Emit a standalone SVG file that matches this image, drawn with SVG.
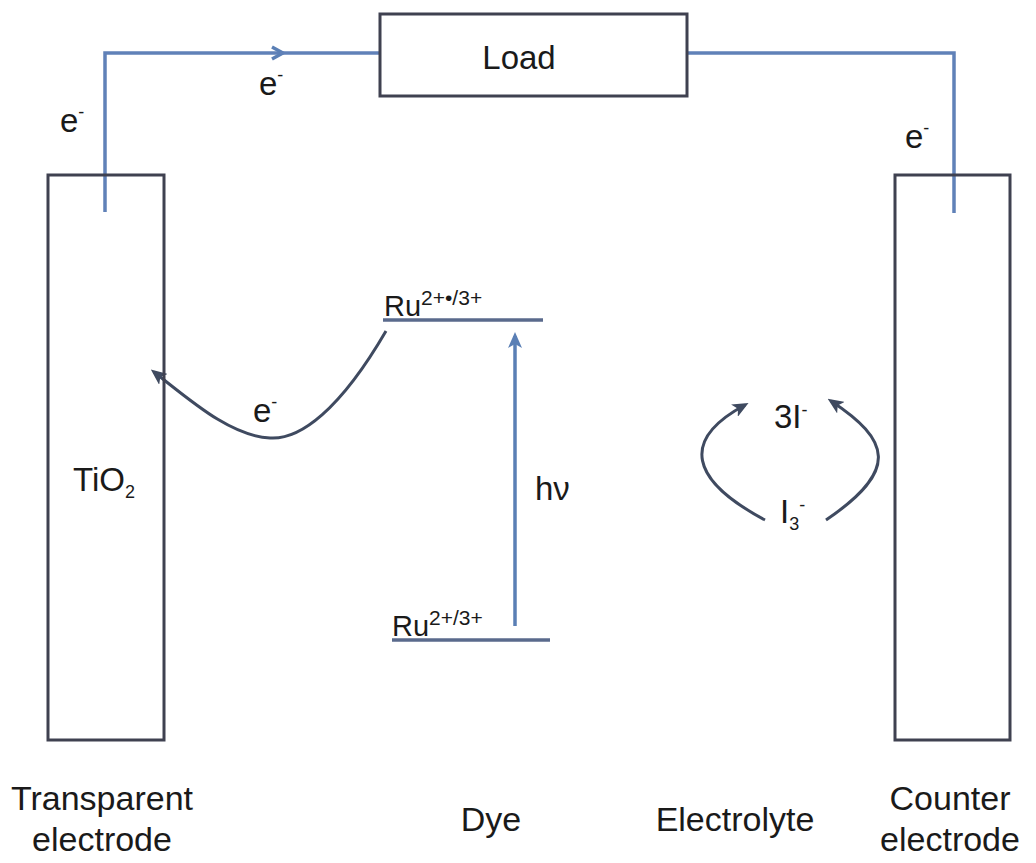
<svg xmlns="http://www.w3.org/2000/svg" width="1036" height="863" viewBox="0 0 1036 863">
<defs>
<style>
.box{fill:none;stroke:#3f4150;stroke-width:3}
.wire{fill:none;stroke:#6081b8;stroke-width:3.5}
.arr{fill:none;stroke:#3f4a60;stroke-width:3}
.lvl{fill:none;stroke:#5a6a8c;stroke-width:3.5}
text{font-family:"Liberation Sans",Arial,sans-serif;font-size:33px;fill:#1a1a1a}
.sup{font-size:18px}
.ru{font-size:29px}
.rusup{font-size:21px}
.cap{font-size:34px}
</style>
<marker id="open" markerWidth="16" markerHeight="16" refX="12" refY="8" orient="auto" markerUnits="userSpaceOnUse">
<path d="M2,2 L13,8 L2,14" fill="none" stroke="#5a7fb5" stroke-width="3.5"/>
</marker>
<marker id="head" markerWidth="16" markerHeight="14" refX="12" refY="7" orient="auto" markerUnits="userSpaceOnUse">
<path d="M0,0 L16,7 L0,14 L4,7 Z" fill="#3f4a60"/>
</marker>
<marker id="headb" markerWidth="16" markerHeight="14" refX="12" refY="7" orient="auto" markerUnits="userSpaceOnUse">
<path d="M0,0 L16,7 L0,14 L4,7 Z" fill="#5a7fb5"/>
</marker>
</defs>
<rect width="1036" height="863" fill="#ffffff"/>

<g id="connectors">
<path class="wire" d="M105,212 V53 H282" marker-end="url(#open)"/>
<path class="wire" d="M280,53 H380"/>
<path class="wire" d="M687,53 H954 V213"/>
<path class="arr" d="M386,331 C340,410 300,440 270,438 C230,436 190,400 154,372" marker-end="url(#head)"/>
<line x1="515" y1="626" x2="515" y2="336" stroke="#5a7fb5" stroke-width="3.5" marker-end="url(#headb)"/>
<path class="arr" d="M765,520 C690,480 680,440 745,405" marker-end="url(#head)"/>
<path class="arr" d="M826,520 C900,470 890,440 831,401" marker-end="url(#head)"/>
</g>

<g id="load">
<rect class="box" x="380" y="14" width="307" height="82"/>
<text x="519" y="69" text-anchor="middle" font-size="32">Load</text>
</g>

<g id="transparent-electrode">
<rect class="box" x="48" y="175" width="116" height="565"/>
<text x="73" y="491">TiO<tspan class="sup" dy="7">2</tspan></text>
</g>

<g id="counter-electrode">
<rect class="box" x="895" y="175" width="115" height="565"/>
</g>

<g id="dye-levels">
<line class="lvl" x1="383" y1="320" x2="543" y2="320"/>
<text class="ru" x="384" y="316">Ru<tspan class="rusup" dy="-11">2+•/3+</tspan></text>
<line class="lvl" x1="392" y1="640" x2="550" y2="640"/>
<text class="ru" x="392" y="636">Ru<tspan class="rusup" dy="-11">2+/3+</tspan></text>
<text x="535" y="500">hν</text>
</g>

<g id="electrolyte">
<text x="774" y="428" font-size="28">3I<tspan class="sup" dy="-12">-</tspan></text>
<text x="780" y="523" font-size="28">I<tspan class="sup" dy="7">3</tspan><tspan class="sup" dy="-19">-</tspan></text>
</g>

<g id="electron-labels">
<text x="60" y="132">e<tspan class="sup" dy="-14">-</tspan></text>
<text x="259" y="95">e<tspan class="sup" dy="-14">-</tspan></text>
<text x="905" y="148">e<tspan class="sup" dy="-14">-</tspan></text>
<text x="253" y="422">e<tspan class="sup" dy="-14">-</tspan></text>
</g>

<g id="captions" text-anchor="middle">
<text class="cap" x="102" y="810">Transparent</text>
<text class="cap" x="102" y="851">electrode</text>
<text class="cap" x="491" y="831">Dye</text>
<text class="cap" x="735" y="831">Electrolyte</text>
<text class="cap" x="950" y="810">Counter</text>
<text class="cap" x="950" y="851">electrode</text>
</g>
</svg>
